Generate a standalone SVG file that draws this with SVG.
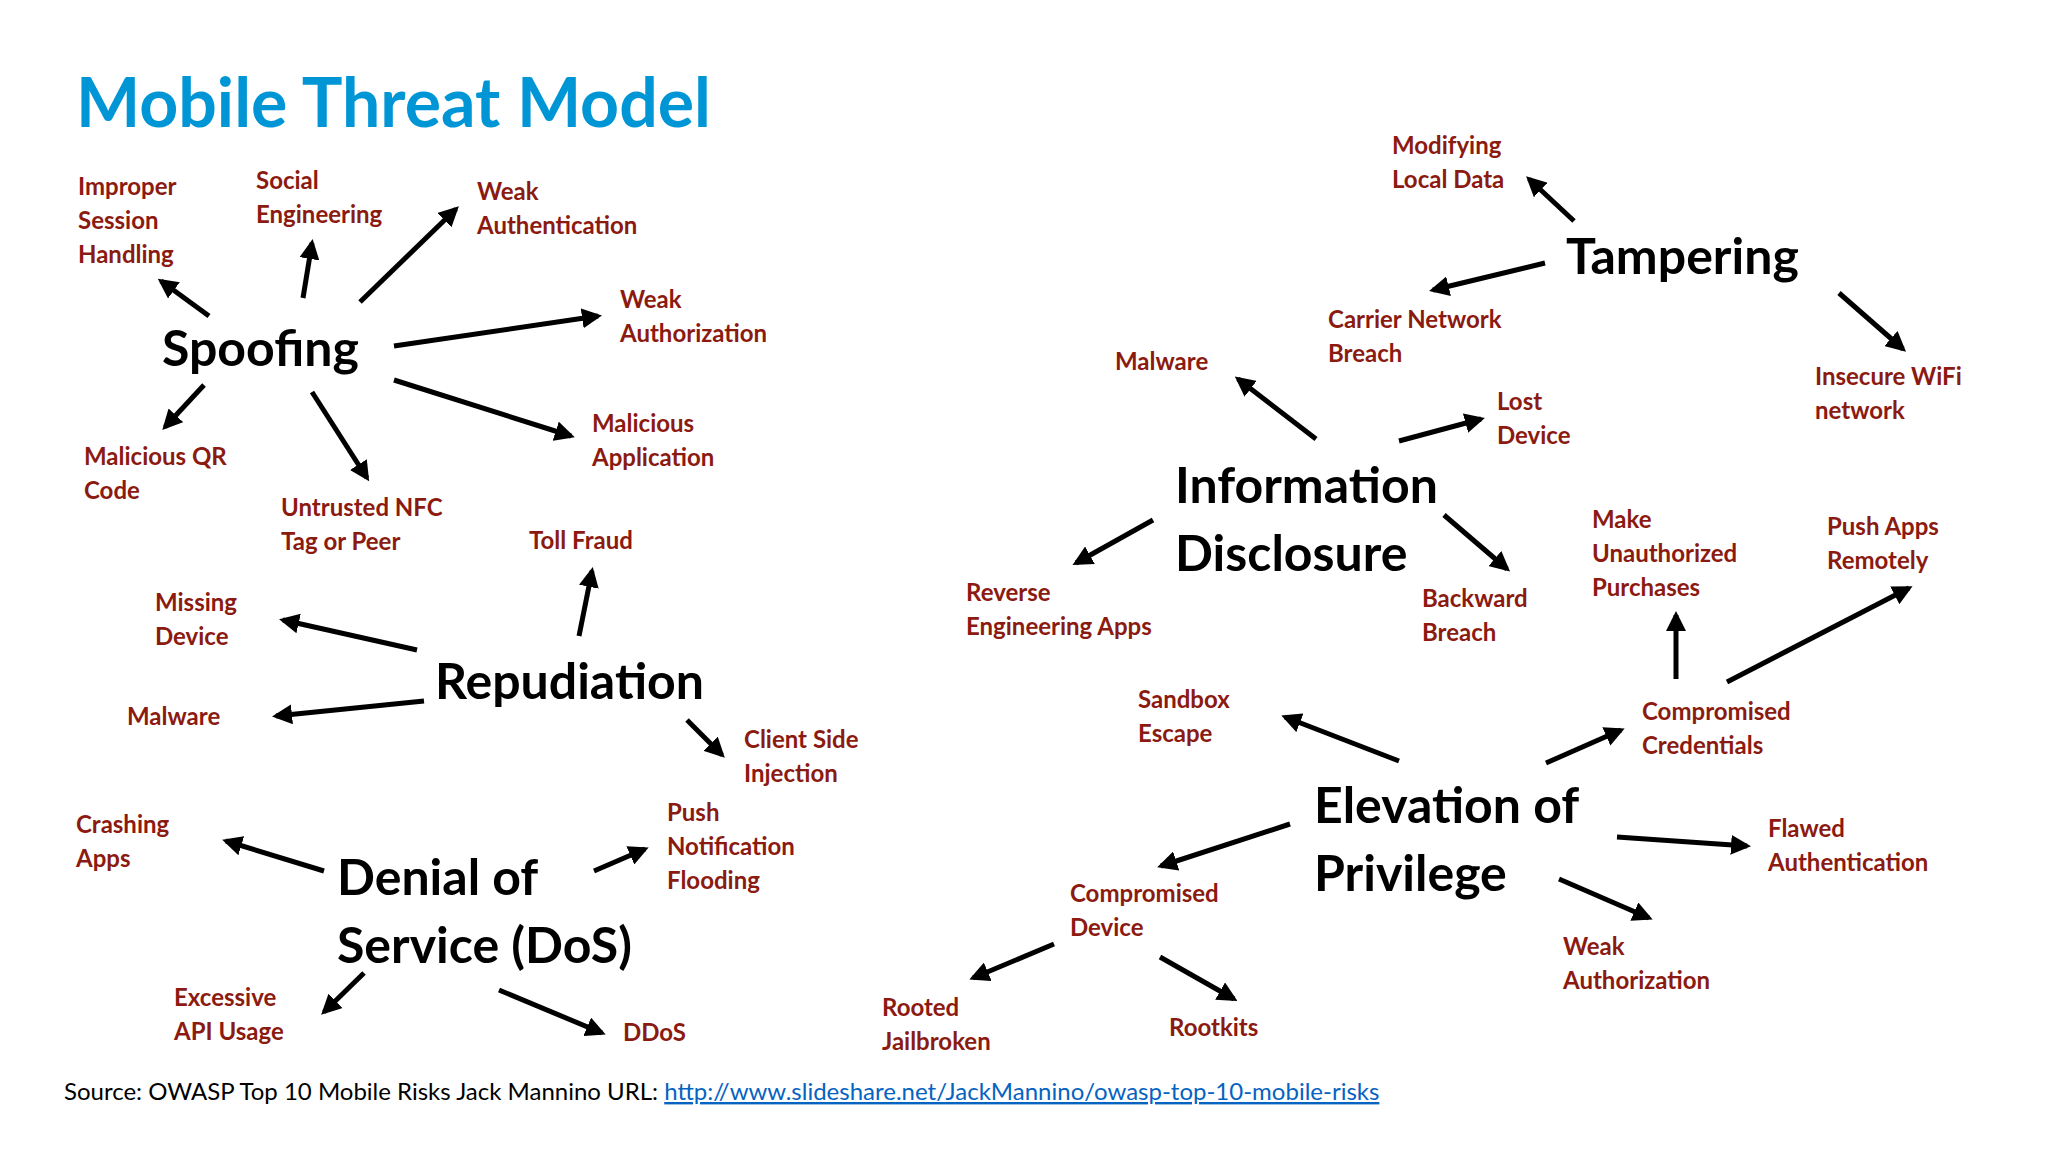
<svg xmlns="http://www.w3.org/2000/svg" width="2048" height="1152" viewBox="0 0 2048 1152">
<defs>
<marker id="ah" viewBox="0 0 10 10" refX="8" refY="5" markerWidth="4" markerHeight="4" orient="auto" markerUnits="strokeWidth"><path d="M0,0 L10,5 L0,10 z" fill="#000"/></marker>
<style>
.t{font-family:Lato,"Open Sans",sans-serif;font-weight:bold;font-size:68px;fill:#0096D6}
.m{font-family:Lato,"Open Sans",sans-serif;font-weight:bold;font-size:50px;fill:#000}
.l{font-family:Lato,"Open Sans",sans-serif;font-weight:bold;font-size:24px;fill:#8B1A10}
.s{font-family:Lato,"Open Sans",sans-serif;font-size:24px;fill:#000}
.c line{stroke:#000;stroke-width:5;marker-end:url(#ah)}
</style>
</defs>
<rect width="2048" height="1152" fill="#fff"/>
<text class="t" x="76" y="127">Mobile Threat Model</text>
<g id="spoofing"><text class="m" x="162" y="366">Spoofing</text></g>
<g id="repudiation"><text class="m" x="435" y="699">Repudiation</text></g>
<g id="dos"><text class="m" x="337" y="895">Denial of<tspan x="337" y="963">Service (DoS)</tspan></text></g>
<g id="info"><text class="m" x="1175" y="503">Information<tspan x="1175" y="571">Disclosure</tspan></text></g>
<g id="tampering"><text class="m" x="1566" y="274">Tampering</text></g>
<g id="eop"><text class="m" x="1314" y="823">Elevation of<tspan x="1314" y="891">Privilege</tspan></text></g>
<g id="labels">
<g id="l1"><text class="l" x="78" y="195">Improper<tspan x="78" dy="34">Session</tspan><tspan x="78" dy="34">Handling</tspan></text></g>
<g id="l2"><text class="l" x="256" y="189">Social<tspan x="256" dy="34">Engineering</tspan></text></g>
<g id="l3"><text class="l" x="477" y="200">Weak<tspan x="477" dy="34">Authentication</tspan></text></g>
<g id="l4"><text class="l" x="620" y="308">Weak<tspan x="620" dy="34">Authorization</tspan></text></g>
<g id="l5"><text class="l" x="592" y="432">Malicious<tspan x="592" dy="34">Application</tspan></text></g>
<g id="l6"><text class="l" x="84" y="465">Malicious QR<tspan x="84" dy="34">Code</tspan></text></g>
<g id="l7"><text class="l" x="281" y="516">Untrusted NFC<tspan x="281" dy="34">Tag or Peer</tspan></text></g>
<g id="l8"><text class="l" x="529" y="549">Toll Fraud</text></g>
<g id="l9"><text class="l" x="155" y="611">Missing<tspan x="155" dy="34">Device</tspan></text></g>
<g id="l10"><text class="l" x="127" y="725">Malware</text></g>
<g id="l11"><text class="l" x="744" y="748">Client Side<tspan x="744" dy="34">Injection</tspan></text></g>
<g id="l12"><text class="l" x="76" y="833">Crashing<tspan x="76" dy="34">Apps</tspan></text></g>
<g id="l13"><text class="l" x="667" y="821">Push<tspan x="667" dy="34">Notification</tspan><tspan x="667" dy="34">Flooding</tspan></text></g>
<g id="l14"><text class="l" x="174" y="1006">Excessive<tspan x="174" dy="34">API Usage</tspan></text></g>
<g id="l15"><text class="l" x="623" y="1041">DDoS</text></g>
<g id="l16"><text class="l" x="882" y="1016">Rooted<tspan x="882" dy="34">Jailbroken</tspan></text></g>
<g id="l17"><text class="l" x="1169" y="1036">Rootkits</text></g>
<g id="l18"><text class="l" x="1070" y="902">Compromised<tspan x="1070" dy="34">Device</tspan></text></g>
<g id="l19"><text class="l" x="1138" y="708">Sandbox<tspan x="1138" dy="34">Escape</tspan></text></g>
<g id="l20"><text class="l" x="966" y="601">Reverse<tspan x="966" dy="34">Engineering Apps</tspan></text></g>
<g id="l21"><text class="l" x="1422" y="607">Backward<tspan x="1422" dy="34">Breach</tspan></text></g>
<g id="l22"><text class="l" x="1592" y="528">Make<tspan x="1592" dy="34">Unauthorized</tspan><tspan x="1592" dy="34">Purchases</tspan></text></g>
<g id="l23"><text class="l" x="1827" y="535">Push Apps<tspan x="1827" dy="34">Remotely</tspan></text></g>
<g id="l24"><text class="l" x="1642" y="720">Compromised<tspan x="1642" dy="34">Credentials</tspan></text></g>
<g id="l25"><text class="l" x="1768" y="837">Flawed<tspan x="1768" dy="34">Authentication</tspan></text></g>
<g id="l26"><text class="l" x="1563" y="955">Weak<tspan x="1563" dy="34">Authorization</tspan></text></g>
<g id="l27"><text class="l" x="1115" y="370">Malware</text></g>
<g id="l28"><text class="l" x="1328" y="328">Carrier Network<tspan x="1328" dy="34">Breach</tspan></text></g>
<g id="l29"><text class="l" x="1497" y="410">Lost<tspan x="1497" dy="34">Device</tspan></text></g>
<g id="l30"><text class="l" x="1392" y="154">Modifying<tspan x="1392" dy="34">Local Data</tspan></text></g>
<g id="l31"><text class="l" x="1815" y="385">Insecure WiFi<tspan x="1815" dy="34">network</tspan></text></g>
</g>
<g id="connectors" class="c">
<line x1="209" y1="316" x2="161" y2="281"/>
<line x1="303" y1="298" x2="312" y2="243"/>
<line x1="360" y1="302" x2="456" y2="209"/>
<line x1="394" y1="346" x2="598" y2="316"/>
<line x1="394" y1="380" x2="571" y2="436"/>
<line x1="204" y1="385" x2="165" y2="427"/>
<line x1="312" y1="392" x2="367" y2="478"/>
<line x1="579" y1="636" x2="592" y2="571"/>
<line x1="417" y1="650" x2="283" y2="620"/>
<line x1="424" y1="701" x2="276" y2="716"/>
<line x1="687" y1="720" x2="722" y2="755"/>
<line x1="324" y1="871" x2="226" y2="841"/>
<line x1="594" y1="871" x2="645" y2="849"/>
<line x1="364" y1="973" x2="324" y2="1012"/>
<line x1="499" y1="990" x2="602" y2="1033"/>
<line x1="1316" y1="439" x2="1238" y2="379"/>
<line x1="1399" y1="441" x2="1481" y2="419"/>
<line x1="1153" y1="520" x2="1076" y2="563"/>
<line x1="1444" y1="515" x2="1507" y2="569"/>
<line x1="1574" y1="221" x2="1529" y2="179"/>
<line x1="1545" y1="263" x2="1433" y2="290"/>
<line x1="1839" y1="293" x2="1903" y2="349"/>
<line x1="1399" y1="761" x2="1285" y2="717"/>
<line x1="1546" y1="763" x2="1621" y2="730"/>
<line x1="1290" y1="824" x2="1161" y2="866"/>
<line x1="1617" y1="837" x2="1747" y2="846"/>
<line x1="1559" y1="879" x2="1649" y2="918"/>
<line x1="1676" y1="679" x2="1676" y2="615"/>
<line x1="1727" y1="682" x2="1909" y2="588"/>
<line x1="1054" y1="944" x2="973" y2="978"/>
<line x1="1160" y1="957" x2="1234" y2="999"/>
</g>
<text class="s" x="64" y="1100">Source: OWASP Top 10 Mobile Risks Jack Mannino URL: <tspan fill="#0563C1" text-decoration="underline">http://www.slideshare.net/JackMannino/owasp-top-10-mobile-risks</tspan></text>
</svg>
